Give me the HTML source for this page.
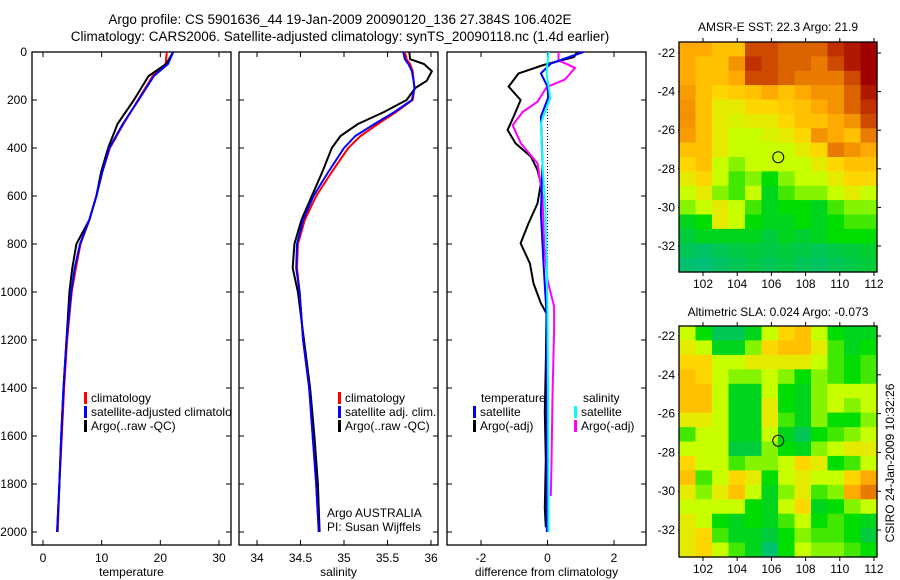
<!DOCTYPE html>
<html><head><meta charset="utf-8"><style>
html,body{margin:0;padding:0;background:#fff;}
svg{display:block;font-family:"Liberation Sans",sans-serif;}
</style></head><body>
<svg id="fig" width="900" height="580" xmlns="http://www.w3.org/2000/svg">
<g font-size="13.5" text-anchor="middle" fill="#000">
<text x="340" y="24">Argo profile: CS 5901636_44 19-Jan-2009 20090120_136 27.384S 106.402E</text>
<text x="340" y="41">Climatology: CARS2006. Satellite-adjusted climatology: synTS_20090118.nc (1.4d earlier)</text>
</g>
<g id="layer"></g>
</svg>
<script>
// ---------- data ----------
const tempDepth = [0,50,100,200,300,400,500,600,700,800,900,1000,1200,1400,1600,1800,2000];
const tempClim  = [21.1,20.9,18.7,16.2,13.7,11.4,10.1,9.1,7.9,6.4,5.6,4.9,4.1,3.6,3.2,2.8,2.5];
const tempSat   = [22.2,21.3,18.9,16.3,13.6,11.3,10.1,9.1,7.9,6.3,5.4,4.8,4.0,3.5,3.1,2.8,2.4];
const tempArgo  = [22.2,21.0,18.0,15.5,12.7,11.1,9.9,9.1,7.9,5.7,5.0,4.5,4.0,3.5,3.1,2.8,2.4];

const salDepth = [0,30,50,80,120,150,200,250,300,350,400,500,600,700,800,900,1000,1200,1400,1600,1800,2000];
const salClim  = [35.70,35.72,35.76,35.79,35.80,35.81,35.79,35.60,35.39,35.19,35.05,34.86,34.68,34.55,34.47,34.46,34.49,34.53,34.60,34.64,34.68,34.71];
const salSat   = [35.68,35.70,35.74,35.78,35.80,35.81,35.78,35.58,35.35,35.13,35.00,34.82,34.65,34.53,34.46,34.45,34.49,34.53,34.60,34.64,34.68,34.71];
const salArgo  = [35.75,35.76,35.92,36.01,35.95,35.82,35.72,35.46,35.16,34.96,34.86,34.75,34.63,34.51,34.43,34.41,34.47,34.54,34.61,34.66,34.70,34.72];

const dTempArgoDepth = [0,21,54,89,144,200,269,325,381,436,492,547,631,714,797,881,964,1047,1089,1300,1500,1700,1900,1980];
const dTempArgo      = [0.89,0.8,-0.12,-0.87,-1.17,-0.81,-1.02,-1.2,-0.96,-0.5,-0.3,-0.2,-0.3,-0.57,-0.81,-0.53,-0.42,-0.2,-0.03,-0.05,-0.08,-0.05,-0.08,-0.05];
const dTempSatDepth = [0,48,89,144,190,269,464,672,881,1089,1500,2000];
const dTempSat      = [1.08,0.1,-0.2,0,0.02,-0.2,-0.15,-0.2,-0.12,-0.03,-0.02,-0.02];
const dSalSatDepth = [0,89,190,297,464,672,881,1089,1500,2000];
const dSalSat      = [0.03,-0.03,0.08,-0.2,-0.15,-0.06,-0.02,0,0.02,0.03];
const dSalArgoDepth = [0,35,66,114,146,207,250,305,381,464,603,811,950,1061,1158,1436,1714,1850];
const dSalArgo      = [0.33,0.33,0.83,0.53,-0.02,-0.3,-0.75,-1.05,-0.8,-0.3,-0.15,-0.1,0,0.2,0.2,0.15,0.12,0.1];

const sstGrid = [
[0.65,0.65,0.6,0.6,0.85,0.85,0.8,0.8,0.8,0.9,0.95,1],
[0.65,0.6,0.6,0.7,0.9,0.85,0.8,0.8,0.75,0.85,0.95,1],
[0.65,0.6,0.6,0.65,0.85,0.85,0.8,0.75,0.75,0.75,0.85,1],
[0.68,0.6,0.55,0.58,0.6,0.65,0.6,0.65,0.7,0.7,0.8,0.95],
[0.7,0.6,0.5,0.5,0.55,0.55,0.58,0.6,0.65,0.7,0.8,0.9],
[0.7,0.6,0.5,0.48,0.5,0.5,0.55,0.6,0.6,0.65,0.7,0.85],
[0.68,0.6,0.5,0.45,0.45,0.48,0.5,0.55,0.7,0.65,0.6,0.75],
[0.6,0.6,0.5,0.45,0.45,0.45,0.45,0.5,0.55,0.75,0.7,0.65],
[0.55,0.6,0.45,0.4,0.45,0.45,0.45,0.45,0.5,0.55,0.6,0.6],
[0.5,0.55,0.45,0.35,0.4,0.3,0.4,0.45,0.45,0.5,0.55,0.55],
[0.45,0.5,0.4,0.35,0.45,0.25,0.35,0.4,0.4,0.45,0.5,0.45],
[0.4,0.45,0.5,0.45,0.35,0.25,0.3,0.3,0.25,0.35,0.4,0.4],
[0.25,0.3,0.5,0.45,0.3,0.25,0.25,0.3,0.25,0.3,0.35,0.35],
[0.2,0.25,0.25,0.25,0.25,0.2,0.25,0.22,0.25,0.3,0.3,0.3],
[0.15,0.12,0.15,0.18,0.2,0.18,0.2,0.18,0.15,0.18,0.2,0.22],
[0.1,0.08,0.12,0.15,0.18,0.15,0.18,0.15,0.12,0.15,0.18,0.2]];
const slaGrid = [
[0.45,0.3,0.15,0.15,0.25,0.45,0.55,0.6,0.45,0.3,0.25,0.25],
[0.5,0.45,0.25,0.25,0.4,0.55,0.6,0.6,0.5,0.35,0.25,0.3],
[0.55,0.55,0.45,0.45,0.5,0.5,0.5,0.5,0.45,0.35,0.3,0.35],
[0.6,0.55,0.45,0.4,0.4,0.45,0.4,0.3,0.4,0.35,0.3,0.35],
[0.6,0.6,0.45,0.25,0.25,0.45,0.3,0.25,0.4,0.45,0.45,0.45],
[0.6,0.6,0.45,0.25,0.25,0.5,0.3,0.25,0.4,0.45,0.4,0.45],
[0.5,0.5,0.45,0.25,0.25,0.5,0.35,0.25,0.4,0.3,0.3,0.4],
[0.35,0.45,0.45,0.25,0.25,0.45,0.25,0.15,0.3,0.35,0.4,0.45],
[0.45,0.45,0.45,0.2,0.2,0.4,0.3,0.25,0.4,0.45,0.5,0.5],
[0.55,0.45,0.45,0.35,0.4,0.4,0.45,0.55,0.5,0.3,0.35,0.45],
[0.6,0.35,0.45,0.55,0.5,0.3,0.45,0.5,0.45,0.45,0.55,0.65],
[0.5,0.4,0.5,0.6,0.45,0.25,0.4,0.5,0.35,0.4,0.65,0.75],
[0.45,0.45,0.45,0.45,0.3,0.25,0.45,0.55,0.25,0.3,0.4,0.45],
[0.5,0.45,0.3,0.25,0.3,0.25,0.35,0.45,0.3,0.35,0.3,0.25],
[0.5,0.55,0.35,0.25,0.25,0.2,0.3,0.4,0.35,0.35,0.3,0.2],
[0.5,0.55,0.45,0.35,0.25,0.1,0.3,0.45,0.4,0.4,0.35,0.3]];
const depthTicks = [0,200,400,600,800,1000,1200,1400,1600,1800,2000];
const tempTicks = [0,10,20,30];
const salTicks = [34,34.5,35,35.5,36];
const diffTicks = [-2,0,2];
const latTicks = [-22,-24,-26,-28,-30,-32];
const lonTicks = [102,104,106,108,110,112];
const argoLon = 106.4, argoLat = -27.4;

// ---------- helpers ----------
const NS='http://www.w3.org/2000/svg';
const layer=document.getElementById('layer');
function mk(tag, attrs, parent){const e=document.createElementNS(NS,tag);for(const k in attrs)e.setAttribute(k,attrs[k]);(parent||layer).appendChild(e);return e;}
function lin(d0,d1,r0,r1){return v=>r0+(v-d0)*(r1-r0)/(d1-d0);}
const yDepth = lin(0,2000,52,532);
const PT=52, PB=545;

function panel(name,x0,x1,xs,ticks,title,fmt){
  const g=mk('g',{});
  
  
  const r=mk('rect',{x:x0,y:PT,width:x1-x0,height:PB-PT,fill:'#fff',stroke:'#000','stroke-width':1.3},g);
  
  
  depthTicks.forEach(d=>{
    const y=yDepth(d);
    mk('line',{x1:x0,x2:x0+5,y1:y,y2:y,stroke:'#000'},g);
    mk('line',{x1:x1,x2:x1-5,y1:y,y2:y,stroke:'#000'},g);
  });
  ticks.forEach(t=>{
    const x=xs(t);
    mk('line',{x1:x,x2:x,y1:PB,y2:PB-5,stroke:'#000'},g);
    mk('line',{x1:x,x2:x,y1:PT,y2:PT+5,stroke:'#000'},g);
    const tx=mk('text',{x:x,y:562,'font-size':12,'text-anchor':'middle'},g);
    tx.textContent=fmt?fmt(t):String(t);
    
    
  });
  const tt=mk('text',{x:(x0+x1)/2,y:576,'font-size':12,'text-anchor':'middle'},g);
  tt.textContent=title;
  
  
  return g;
}
function series(g,name,xs,vals,depths,color,w){
  const pts=vals.map((v,i)=>xs(v).toFixed(1)+','+yDepth(depths[i]).toFixed(1)).join(' ');
  const p=mk('polyline',{points:pts,fill:'none',stroke:color,'stroke-width':w,'stroke-linejoin':'round'},g);
  
  
}
function legend(g,name,x,y,color,label){
  const m=mk('rect',{x:x,y:y-10,width:3,height:12,fill:color},g);
  
  
  const t=mk('text',{x:x+7,y:y,'font-size':12},g);
  t.textContent=label;
  
  
}

// depth axis labels
depthTicks.forEach(d=>{
  const t=mk('text',{x:27,y:yDepth(d)+4,'font-size':12,'text-anchor':'end'});
  t.textContent=String(d);
  
  
});

// panel 1: temperature
const xT=lin(0,30,43,219);
const g1=panel('temperature-panel',32,231,xT,tempTicks,'temperature');
series(g1,'temp-climatology-line',xT,tempClim,tempDepth,'#ff0000',2);
series(g1,'temp-argo-line',xT,tempArgo,tempDepth,'#000',2);
series(g1,'temp-satellite-line',xT,tempSat,tempDepth,'#0000ff',2);
legend(g1,'legend-climatology',84,402,'#ff0000','climatology');
legend(g1,'legend-satellite-adjusted',84,416,'#0000ff','satellite-adjusted climatology');
legend(g1,'legend-argo-raw',84,430,'#000','Argo(..raw -QC)');
mk('rect',{x:232,y:405,width:7,height:14,fill:'#fff'});

// panel 2: salinity
const xS=lin(34,36,257,431);
const g2=panel('salinity-panel',239,438,xS,salTicks,'salinity');
series(g2,'sal-climatology-line',xS,salClim,salDepth,'#ff0000',2);
series(g2,'sal-argo-line',xS,salArgo,salDepth,'#000',2);
series(g2,'sal-satellite-line',xS,salSat,salDepth,'#0000ff',2);
legend(g2,'legend-sal-climatology',338,402,'#ff0000','climatology');
legend(g2,'legend-sal-satellite',338,416,'#0000ff','satellite adj. clim.');
legend(g2,'legend-sal-argo',338,430,'#000','Argo(..raw -QC)');
[['Argo AUSTRALIA',517,'argo-australia-label'],['PI: Susan Wijffels',531,'pi-label']].forEach(a=>{
  const t=mk('text',{x:327,y:a[1],'font-size':12},g2);t.textContent=a[0];
  
  
});

// panel 3: difference
const xD=lin(-2,2,481,614);
const g3=panel('difference-panel',447,646,xD,diffTicks,'difference from climatology');
const zl=mk('line',{x1:xD(0),x2:xD(0),y1:yDepth(150),y2:yDepth(2000),stroke:'#000','stroke-dasharray':'1,2'},g3);


series(g3,'diff-temp-argo-line',xD,dTempArgo,dTempArgoDepth,'#000',2);
series(g3,'diff-sal-argo-line',xD,dSalArgo,dSalArgoDepth,'#ff00ff',2);
series(g3,'diff-temp-satellite-line',xD,dTempSat,dTempSatDepth,'#0000ff',2);
series(g3,'diff-sal-satellite-line',xD,dSalSat,dSalSatDepth,'#00ffff',2);
[['temperature',481,402,'legend-temperature-heading'],['salinity',583,402,'legend-salinity-heading']].forEach(a=>{
  const t=mk('text',{x:a[1],y:a[2],'font-size':12},g3);t.textContent=a[0];
  
  
});
legend(g3,'legend-temp-satellite',473,416,'#0000ff','satellite');
legend(g3,'legend-temp-argo',473,430,'#000','Argo(-adj)');
legend(g3,'legend-sal-satellite-diff',574,416,'#00ffff','satellite');
legend(g3,'legend-sal-argo-diff',574,430,'#ff00ff','Argo(-adj)');

// colormap
const stops=[[0,[0,184,160]],[0.2,[0,204,60]],[0.3,[0,221,0]],[0.45,[200,255,0]],[0.55,[255,215,0]],[0.65,[255,170,0]],[0.8,[220,100,0]],[0.9,[192,48,0]],[1,[160,0,0]]];
function cmap(v){for(let i=1;i<stops.length;i++){if(v<=stops[i][0]){const a=stops[i-1],b=stops[i],f=(v-a[0])/(b[0]-a[0]);return 'rgb('+a[1].map((c,k)=>Math.round(c+(b[1][k]-c)*f)).join(',')+')';}}return 'rgb(160,0,0)';}

function map(name,grid,x0,x1,y0,y1,lat22,lat32,title,titleY){
  const g=mk('g',{});
  
  
  const xs=lin(102,112,703,874), ys=lin(-22,-32,lat22,lat32);
  const rows=grid.length, cols=grid[0].length, cw=(x1-x0)/cols, ch=(y1-y0)/rows;
  grid.forEach((row,r)=>row.forEach((v,c)=>{
    const cell=mk('rect',{x:(x0+c*cw).toFixed(1),y:(y0+r*ch).toFixed(1),width:(cw+0.6).toFixed(1),height:(ch+0.6).toFixed(1),fill:cmap(v)},g);
    
    
  }));
  mk('rect',{x:x0,y:y0,width:x1-x0,height:y1-y0,fill:'none',stroke:'#000','stroke-width':1.3},g);
  latTicks.forEach(l=>{
    const y=ys(l);
    mk('line',{x1:x1,x2:x1+4,y1:y,y2:y,stroke:'#000'},g);
    mk('line',{x1:x0,x2:x0-1,y1:y,y2:y,stroke:'#000'},g);
    const t=mk('text',{x:x0-4,y:y+4,'font-size':12,'text-anchor':'end'},g);
    t.textContent=String(l);
    
    
  });
  lonTicks.forEach(l=>{
    const x=xs(l);
    mk('line',{x1:x,x2:x,y1:y0,y2:y0-4,stroke:'#000'},g);
    mk('line',{x1:x,x2:x,y1:y1,y2:y1+4,stroke:'#000'},g);
    const t=mk('text',{x:x,y:y1+16,'font-size':12,'text-anchor':'middle'},g);
    t.textContent=String(l);
    
    
  });
  const c=mk('circle',{cx:xs(argoLon),cy:ys(argoLat),r:5.5,fill:'none',stroke:'#000','stroke-width':1},g);
  
  
  const t=mk('text',{x:(x0+x1)/2,y:titleY,'font-size':12,'text-anchor':'middle'},g);
  t.textContent=title;
  
  
}
map('sst-map',sstGrid,679,877,42,272,53,246,'AMSR-E SST: 22.3 Argo: 21.9',31);
map('sla-map',slaGrid,679,877,326,557,336,530,'Altimetric SLA: 0.024 Argo: -0.073',316);

const cs=mk('text',{x:0,y:0,'font-size':12,'text-anchor':'middle',transform:'translate(894,463) rotate(-90)'});
cs.textContent='CSIRO 24-Jan-2009 10:32:26';


</script>
</body></html>
